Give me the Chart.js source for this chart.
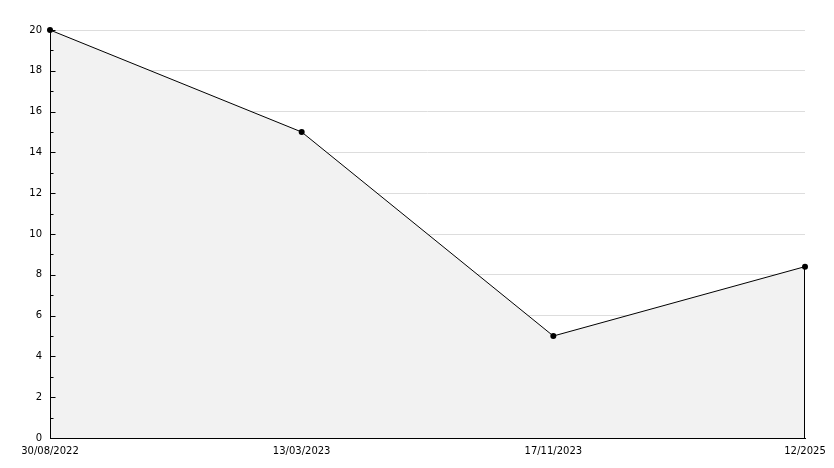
<!DOCTYPE html>
<html>
<head>
<meta charset="utf-8">
<script src="https://cdn.jsdelivr.net/npm/chart.js@4/dist/chart.umd.min.js"></script>
<style>
  html, body { margin: 0; padding: 0; background: #fff; }
  #wrap { width: 834px; height: 468px; }
</style>
</head>
<body>
<div id="wrap"><canvas id="c"></canvas></div>
<script>
  const labels = ["30/08/2022", "13/03/2023", "17/11/2023", "12/2025"];
  const values = [20, 15, 5, 8.4];
  const yMin = 0, yMax = 20, yStep = 2;

  // axis line, ticks pointing into the plot, closing line at the right edge of the fill
  const innerTicks = {
    id: "innerTicks",
    afterDatasetsDraw(chart) {
      const { ctx, chartArea } = chart;
      const y = chart.scales.y, x = chart.scales.x;
      const left = Math.round(chartArea.left) + 0.5;
      ctx.save();
      ctx.strokeStyle = "#000";
      ctx.lineWidth = 1;
      ctx.beginPath();
      ctx.moveTo(left, y.getPixelForValue(yMax));
      ctx.lineTo(left, y.getPixelForValue(yMin));
      ctx.stroke();
      for (let v = yMin; v <= yMax; v++) {
        const py = Math.round(y.getPixelForValue(v)) + 0.5;
        const len = v % yStep === 0 ? 5 : 3;
        ctx.beginPath();
        ctx.moveTo(left, py);
        ctx.lineTo(left + len, py);
        ctx.stroke();
      }
      const last = values.length - 1;
      const px = Math.round(x.getPixelForValue(last)) - 0.5;
      ctx.beginPath();
      ctx.moveTo(px, y.getPixelForValue(values[last]));
      ctx.lineTo(px, y.getPixelForValue(yMin));
      ctx.stroke();
      ctx.restore();
    }
  };

  Chart.defaults.font.family = "DejaVu Sans, sans-serif";
  Chart.defaults.font.size = 10;
  Chart.defaults.color = "#000";

  new Chart(document.getElementById("c"), {
    type: "line",
    data: {
      labels,
      datasets: [{
        data: values,
        borderColor: "#000",
        borderWidth: 1,
        backgroundColor: "#f2f2f2",
        fill: "origin",
        tension: 0,
        pointRadius: 3,
        pointBackgroundColor: "#000",
        pointBorderColor: "#000",
        pointBorderWidth: 0,
        clip: false
      }]
    },
    options: {
      responsive: true,
      maintainAspectRatio: false,
      animation: false,
      layout: { padding: { top: 30, right: 29, left: 0, bottom: 0 } },
      plugins: { legend: { display: false }, tooltip: { enabled: false } },
      scales: {
        x: {
          offset: false,
          grid: { display: false, drawTicks: false },
          border: { color: "#000", width: 1 },
          ticks: { padding: 7, maxRotation: 0, autoSkip: false },
          afterFit(s) { s.height = 30; }
        },
        y: {
          min: yMin,
          max: yMax,
          grid: { color: "#dddddd", drawTicks: false },
          border: { display: false },
          ticks: { stepSize: yStep, padding: 8 },
          afterFit(s) { s.width = 50; }
        }
      }
    },
    plugins: [innerTicks]
  });
</script>
</body>
</html>
